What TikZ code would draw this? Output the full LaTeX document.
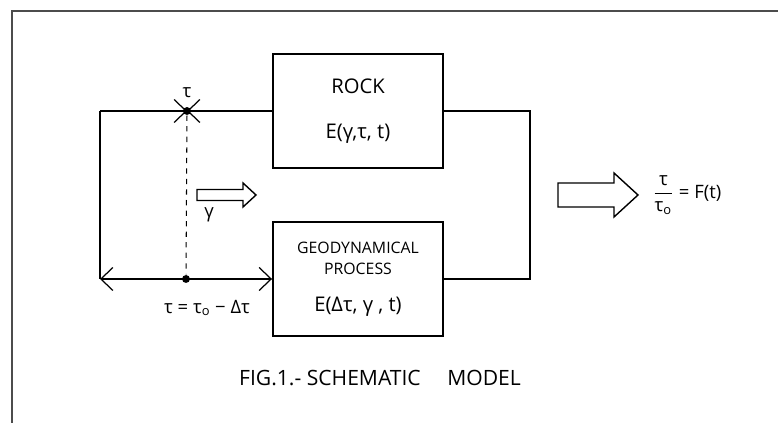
\documentclass[tikz,border=0pt]{standalone}
\usepackage{fontspec}
\setmainfont{Open Sans}
\usetikzlibrary{arrows.meta,positioning,calc}

\begin{document}
\begin{tikzpicture}[
  block/.style={draw, line width=1.1pt, minimum width=3.4cm, minimum height=2.28cm,
                align=center},
  barb/.tip={Straight Barb[length=0.24cm, width=0.46cm, line width=0.7pt]},
  hollow/.style={draw, line width=0.8pt, fill=white},
  dot/.style={circle, fill, inner sep=0pt, minimum size=4.5pt},
  lbl/.style={font=\fontsize{10.5}{12}\selectfont},
  thick
]
  \useasboundingbox (0,0) rectangle (15.56,8.46);
  % frame
  \draw[line width=1pt, black!70] (0.24,0) -- (0.24,8.24) -- (15.56,8.24);

  % the two blocks
  \node[block] (rock) at (7.16,6.24)
      {\fontsize{11.5}{13}\selectfont ROCK\\[14pt]\fontsize{11.5}{13}\selectfont E(γ,τ, t)};
  \node[block] (geo)  at (7.16,2.88)
      {\fontsize{9}{10}\selectfont GEODYNAMICAL\\\fontsize{9}{10}\selectfont PROCESS\\[9pt]%
       \fontsize{11.5}{13}\selectfont E(Δτ, γ , t)};

  % loop on the right
  \coordinate (tr) at (10.6,6.24);
  \coordinate (br) at (10.6,2.88);
  \draw (rock.east) -- (tr) -- (br) -- (geo.east);

  % loop on the left
  \coordinate (tl) at (2.0,6.24);
  \coordinate (bl) at (2.0,2.88);
  \node[dot] (tj) at (3.74,6.24) {};
  \node[dot] (bj) at (3.72,2.88) {};
  \draw[-barb] (rock.west) -- (tj.center);
  \draw[-barb] (tl) -- (tj.center);
  \draw (tl) -- (bl);
  \draw[barb-barb] (bl) -- (geo.west);
  \draw[dashed, semithick] (tj) -- (bj);

  \node[lbl] (tau) at (3.74,6.6) {τ};
  \node[font=\fontsize{10.5}{12}\selectfont] (taueq) at (4.14,2.3)
      {τ = τ\textsubscript{o} − Δτ};

  % small hollow arrow
  \coordinate (sa) at (3.94,4.56);
  \draw[hollow] (sa) ++(0,0.11) -- ++(0.92,0) -- ++(0,0.13) -- ++(0.26,-0.24)
      -- ++(-0.26,-0.24) -- ++(0,0.13) -- ++(-0.92,0) -- cycle;
  \node[lbl] (gam) at (4.18,4.16) {γ};

  % big hollow arrow
  \coordinate (ba) at (11.16,4.56);
  \draw[hollow] (ba) ++(0,0.24) -- ++(1.12,0) -- ++(0,0.2) -- ++(0.48,-0.44)
      -- ++(-0.48,-0.44) -- ++(0,0.2) -- ++(-1.12,0) -- cycle;
  \node[lbl, anchor=west] (ratio) at (12.92,4.56)
      {$\displaystyle\frac{\mbox{τ}}{\mbox{τ\textsubscript{o}}}$ = F(t)};

  \node[font=\fontsize{12}{14}\selectfont] (caption) at (7.6,0.9)
      {FIG.1.- SCHEMATIC\quad\ MODEL};
\end{tikzpicture}
\end{document}
